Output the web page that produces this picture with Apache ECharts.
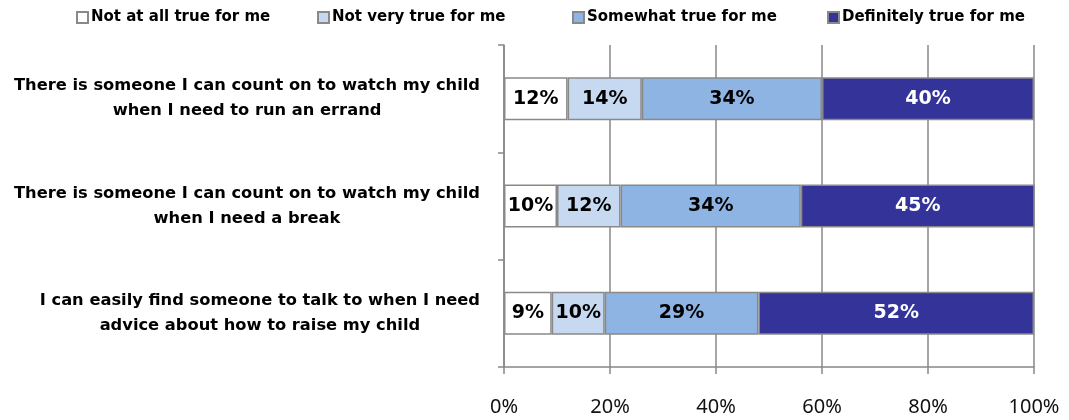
<!DOCTYPE html>
<html>
<head>
<meta charset="utf-8">
<script src="https://cdn.jsdelivr.net/npm/echarts@6/dist/echarts.min.js"></script>
<style>
  html, body { margin: 0; padding: 0; background: #ffffff; }
  #chart { width: 1069px; height: 420px; }
</style>
</head>
<body>
<div id="chart"></div>
<script>
// Survey statements (top to bottom)
const statements = [
  'There is someone I can count on to watch my child\nwhen I need to run an errand',
  'There is someone I can count on to watch my child\nwhen I need a break',
  'I can easily find someone to talk to when I need\nadvice about how to raise my child'
];

// Response categories
const responseNames = [
  'Not at all true for me',
  'Not very true for me',
  'Somewhat true for me',
  'Definitely true for me'
];

// Percent of respondents per statement, one array per response
const notAtAll   = [12, 10, 9];
const notVery    = [14, 12, 10];
const somewhat   = [34, 34, 29];
const definitely = [40, 45, 52];

// Percent axis ticks
const percentTicks = [0, 20, 40, 60, 80, 100];

const seriesValues = [notAtAll, notVery, somewhat, definitely];
const fillColors = ['#ffffff', '#c6d9f1', '#8eb4e3', '#333399'];
const labelColors = ['#000000', '#000000', '#000000', '#ffffff'];

// Legend entries are laid out individually across the top row
const legendLefts = [76, 317, 572, 827];

const chart = echarts.init(document.getElementById('chart'));

chart.setOption({
  animation: false,
  legend: responseNames.map((name, i) => ({
    top: 10,
    left: legendLefts[i],
    padding: 0,
    itemWidth: 11,
    itemHeight: 11,
    icon: 'rect',
    textStyle: {
      fontFamily: 'DejaVu Sans',
      fontWeight: 'bold',
      fontSize: 15,
      color: '#000000',
      padding: [0, 0, 0, -2]
    },
    data: [name]
  })),
  grid: {
    left: 504,
    right: 35,
    top: 45,
    bottom: 53
  },
  xAxis: {
    type: 'value',
    min: percentTicks[0],
    max: percentTicks[percentTicks.length - 1],
    interval: percentTicks[1] - percentTicks[0],
    axisLine: { show: true, lineStyle: { color: '#888888', width: 1.5 } },
    axisTick: { show: true, length: 7, lineStyle: { color: '#888888', width: 1.5 } },
    splitLine: { show: true, lineStyle: { color: '#888888', width: 1.5 } },
    axisLabel: {
      margin: 30,
      fontFamily: 'Noto Sans',
      fontSize: 20,
      color: '#111111',
      formatter: '{value}%'
    }
  },
  yAxis: {
    type: 'category',
    inverse: true,
    data: statements,
    axisLine: { show: true, lineStyle: { color: '#888888', width: 1.5 } },
    axisTick: { show: true, length: 6, lineStyle: { color: '#888888', width: 1.5 } },
    axisLabel: {
      margin: 24,
      align: 'right',
      // each line centred inside a right-aligned block
      formatter: (value) => value.split('\n').map((line) => '{c|' + line + '}').join('\n'),
      rich: {
        c: {
          align: 'center',
          fontFamily: 'DejaVu Sans',
          fontWeight: 'bold',
          fontSize: 16.3,
          lineHeight: 25,
          color: '#000000'
        }
      }
    }
  },
  series: responseNames.map((name, i) => ({
    name: name,
    type: 'bar',
    stack: 'total',
    barWidth: '40%',
    clip: true,
    data: seriesValues[i],
    itemStyle: {
      color: fillColors[i],
      borderColor: '#898989',
      borderWidth: 1.5
    },
    label: {
      show: true,
      position: 'inside',
      formatter: '{c}%',
      fontFamily: 'DejaVu Sans',
      fontWeight: 'bold',
      fontSize: 19,
      color: labelColors[i]
    }
  }))
});
</script>
</body>
</html>
